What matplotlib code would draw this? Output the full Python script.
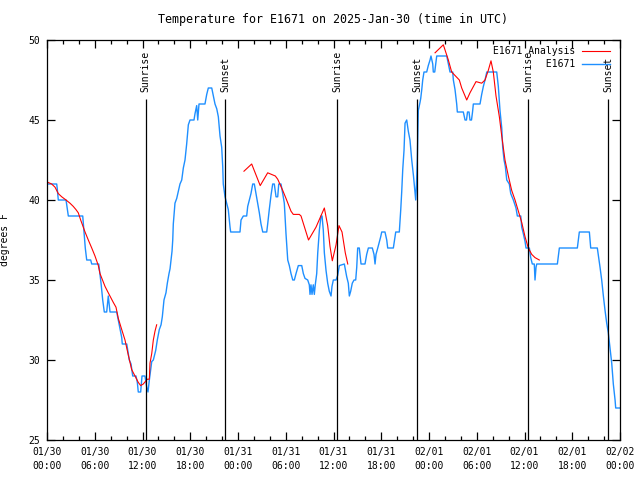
import datetime as dt
import matplotlib
matplotlib.use('Agg')
import matplotlib.pyplot as plt
import matplotlib.dates as mdates
import numpy as np

start = dt.datetime(2025, 1, 30)

# station readings, hours since 01/30 00:00 UTC and deg F
obs_hours = [0.00, 1.22, 1.29, 1.42, 2.39, 2.68, 4.49, 4.52, 4.65, 4.81, 4.99, 5.49, 5.62, 6.50, 6.79, 7.00,
             7.20, 7.50, 7.70, 7.92, 8.76, 8.96, 9.17, 9.39, 9.46, 10.02, 10.22, 10.34, 10.56, 10.77, 11.18,
             11.35, 11.47, 11.77, 11.94, 12.31, 12.53, 12.69, 12.86, 13.16, 13.36, 13.66, 13.86, 14.11, 14.33,
             14.49, 14.70, 14.95, 15.12, 15.33, 15.46, 15.58, 15.71, 15.80, 15.87, 16.08, 16.30, 16.71, 16.93,
             17.13, 17.34, 17.55, 17.76, 17.97, 18.47, 18.60, 18.81, 18.94, 19.10, 19.85, 20.07, 20.27, 20.70,
             20.90, 21.11, 21.33, 21.53, 21.74, 21.95, 22.08, 22.15, 22.37, 22.58, 22.78, 23.00, 23.08, 24.25,
             24.38, 24.67, 25.09, 25.22, 25.42, 25.63, 25.85, 26.05, 26.26, 26.48, 26.68, 26.89, 27.11, 27.61,
             27.73, 27.93, 28.15, 28.36, 28.56, 28.78, 28.99, 29.12, 29.40, 29.62, 29.82, 30.03, 30.25, 30.45,
             30.66, 30.88, 31.08, 31.29, 31.58, 32.01, 32.21, 32.42, 32.76, 32.96, 33.05, 33.17, 33.30, 33.46,
             33.59, 33.71, 33.89, 34.02, 34.22, 34.43, 34.56, 34.72, 34.85, 35.06, 35.27, 35.47, 35.69, 35.81,
             35.98, 36.32, 36.53, 36.73, 37.36, 37.66, 37.86, 37.99, 38.16, 38.36, 38.58, 38.79, 38.92, 39.04,
             39.24, 39.46, 39.96, 40.17, 40.38, 40.88, 41.09, 41.22, 41.34, 41.56, 41.93, 42.06, 42.47, 42.69,
             42.81, 43.52, 43.73, 43.82, 44.27, 44.45, 44.57, 44.70, 44.86, 44.99, 45.20, 45.40, 45.61, 45.83,
             46.05, 46.24, 46.33, 46.43, 46.53, 46.66, 46.87, 46.96, 47.09, 47.21, 47.37, 47.71, 47.91, 48.13,
             48.25, 48.47, 48.54, 48.72, 48.84, 48.97, 50.23, 50.43, 50.64, 50.98, 51.06, 51.27, 51.48, 51.56,
             52.31, 52.53, 52.71, 52.84, 53.03, 53.15, 53.34, 53.47, 53.57, 54.41, 54.62, 54.83, 55.04, 55.26,
             56.51, 56.71, 56.92, 57.14, 57.26, 57.43, 57.59, 57.77, 58.09, 58.27, 58.52, 58.60, 58.93, 59.10,
             59.53, 59.65, 59.85, 60.07, 60.19, 60.61, 60.78, 60.98, 61.23, 61.32, 61.45, 61.54, 64.13, 64.38,
             66.64, 66.89, 68.15, 68.32, 69.15, 69.49, 69.70, 69.91, 70.12, 70.33, 70.53, 70.74, 70.96, 71.16,
             71.38, 71.46, 72.00]
obs_temps = [41.0, 41.0, 40.7, 40.0, 40.0, 39.0, 39.0, 38.8, 38.0, 37.0, 36.25, 36.25, 36.0, 36.0, 34.8, 33.75,
             33.0, 33.0, 34.0, 33.0, 33.0, 32.5, 32.0, 31.4, 31.0, 31.0, 30.4, 30.0, 29.75, 29.0, 29.0,
             28.6, 28.0, 28.0, 29.0, 29.0, 28.3, 28.0, 28.75, 29.9, 30.0, 30.6, 31.25, 31.9, 32.2,
             32.7, 33.75, 34.2, 34.8, 35.4, 35.7, 36.25, 36.8, 37.5, 38.5, 39.8, 40.1, 41.0, 41.25,
             42.0, 42.5, 43.5, 44.7, 45.0, 45.0, 45.4, 45.9, 45.0, 46.0, 46.0, 46.6, 47.0, 47.0,
             46.5, 46.0, 45.7, 45.2, 44.0, 43.3, 42.1, 41.0, 40.2, 39.8, 39.4, 38.3, 38.0, 38.0,
             38.75, 39.0, 39.0, 39.6, 40.0, 40.4, 41.0, 41.0, 40.4, 39.8, 39.2, 38.5, 38.0, 38.0,
             38.5, 39.4, 40.3, 41.0, 41.0, 40.2, 40.2, 41.0, 41.0, 40.4, 39.8, 37.9, 36.25, 35.9,
             35.4, 35.0, 35.0, 35.4, 35.9, 35.9, 35.4, 35.1, 35.0, 34.7, 34.1, 34.7, 34.1, 34.7,
             34.1, 34.7, 35.4, 36.7, 38.1, 39.0, 39.0, 38.1, 36.7, 35.6, 34.8, 34.3, 34.0, 34.6,
             35.0, 35.0, 35.3, 35.9, 36.0, 35.2, 34.8, 34.0, 34.3, 34.8, 35.0, 35.0, 35.8, 37.0,
             37.0, 36.0, 36.0, 36.6, 37.0, 37.0, 36.6, 36.0, 36.6, 37.0, 37.7, 38.0, 38.0, 37.5,
             37.0, 37.0, 37.7, 38.0, 38.0, 39.4, 40.5, 41.9, 43.1, 44.8, 45.0, 44.3, 43.75, 42.5,
             41.5, 40.5, 40.0, 41.0, 42.5, 45.6, 46.1, 46.35, 46.9, 47.5, 48.0, 48.0, 48.4, 48.75,
             49.0, 48.5, 48.0, 48.0, 48.5, 49.0, 49.0, 48.5, 48.0, 48.0, 47.5, 46.9, 46.0, 45.5,
             45.5, 45.0, 45.0, 45.5, 45.5, 45.0, 45.0, 45.5, 46.0, 46.0, 46.6, 47.1, 47.5, 48.0,
             48.0, 47.1, 45.6, 44.5, 43.3, 42.5, 42.1, 41.25, 41.0, 40.4, 40.1, 40.0, 39.5, 39.0,
             39.0, 38.3, 37.9, 37.4, 37.0, 37.0, 36.4, 36.0, 36.0, 35.0, 35.8, 36.0, 36.0, 37.0,
             37.0, 38.0, 38.0, 37.0, 37.0, 35.8, 35.0, 34.0, 33.1, 32.3, 31.7, 30.8, 29.8, 28.5,
             27.5, 27.0, 27.0]

# analysis series, nan marks the gaps
ana_hours = [0.13, 0.59, 1.01, 1.42, 1.85, 2.39, 2.89, 3.30, 3.64, 3.93, 4.23, 4.49, 4.78, 5.19, 5.62, 6.03,
             6.45, 6.66, 7.29, 7.70, 8.33, 8.67, 8.96, 9.39, 9.80, 10.22, 10.64, 11.06, 11.47, 11.77, 12.10,
             12.60, 12.86, 12.94, 13.16, 13.36, 13.57, 13.78, np.nan,
             24.75, 25.72, 26.79, 27.73, 28.69, 28.99, 29.62, 30.03, 30.66, 30.95, 31.70, 31.92, 32.86, 33.80,
             34.85, 35.27, 35.56, 35.85, 36.32, 36.69, 37.07, 37.48, 37.79, np.nan,
             48.76, 49.80, 50.43, 50.85, 51.81, 52.11, 52.74, 53.15, 53.91, 54.62, 55.04, 55.45, 55.79, 56.08,
             56.42, 56.84, 57.14, 57.55, 57.97, 58.39, 58.81, 59.23, 59.65, 60.07, 60.48, 60.91, 61.32, 61.86]
ana_temps = [41.1, 41.0, 40.8, 40.4, 40.2, 40.0, 39.8, 39.6, 39.4, 39.2, 38.75, 38.4, 38.0, 37.5, 37.0, 36.5,
             35.9, 35.4, 34.6, 34.2, 33.6, 33.3, 32.6, 31.9, 31.25, 30.3, 29.4, 29.0, 28.6, 28.4, 28.5,
             28.8, 28.8, 29.8, 30.4, 31.25, 31.8, 32.2, np.nan,
             41.8, 42.25, 40.9, 41.7, 41.5, 41.3, 40.6, 40.1, 39.3, 39.1, 39.1, 39.0, 37.5, 38.3,
             39.5, 38.4, 37.1, 36.2, 37.2, 38.4, 38.0, 36.7, 36.0, np.nan,
             49.2, 49.7, 48.75, 48.0, 47.5, 47.0, 46.25, 46.7, 47.4, 47.3, 47.5, 48.1, 48.7, 48.0,
             46.5, 45.2, 44.0, 42.5, 41.5, 40.6, 40.0, 39.3, 38.6, 37.7, 37.0, 36.6, 36.4, 36.25]

sunrise_hours = [12.4, 36.45, 60.45]
sunset_hours = [22.4, 46.5, 70.5]

plt.rcParams['font.family'] = 'DejaVu Sans Mono'
plt.rcParams['font.size'] = 7

t0 = mdates.date2num(start)
def to_x(h):
    return t0 + np.asarray(h, dtype=float) / 24.0

fig = plt.figure(figsize=(6.4, 4.8), dpi=100)
ax = fig.add_axes([47 / 640, 40 / 480, 573 / 640, 400 / 480])

l_obs, = ax.plot(to_x(obs_hours), obs_temps, color='#1e8fff', lw=1.0, label='         E1671')
l_ana, = ax.plot(to_x(ana_hours), ana_temps, color='#ff0000', lw=0.8, label='E1671 Analysis')

for h in sunrise_hours:
    ax.vlines(to_x(h), 25, 46.3, color='black', lw=0.9)
    ax.text(to_x(h), 46.75, 'Sunrise', rotation=90, ha='center', va='bottom')
for h in sunset_hours:
    ax.vlines(to_x(h), 25, 46.3, color='black', lw=0.9)
    ax.text(to_x(h), 46.75, 'Sunset', rotation=90, ha='center', va='bottom')

ax.set_xlim(to_x(0), to_x(72))
ax.set_ylim(25, 50)
ax.set_yticks([25, 30, 35, 40, 45, 50])
ax.xaxis.set_major_locator(mdates.HourLocator(byhour=[0, 6, 12, 18]))
ax.xaxis.set_minor_locator(mdates.HourLocator(interval=2))
ax.xaxis.set_major_formatter(mdates.DateFormatter('%m/%d\n%H:%M'))
ax.tick_params(which='both', direction='in', top=True, right=True, width=0.9)
ax.tick_params(which='major', length=6, pad=5)
ax.tick_params(which='minor', length=3)
for lab in ax.get_xticklabels():
    lab.set_linespacing(1.45)
for s in ax.spines.values():
    s.set_linewidth(0.9)

ax.set_ylabel('degrees F')
ax.yaxis.set_label_coords(-0.0646, 0.5)
ax.set_title('Temperature for E1671 on 2025-Jan-30 (time in UTC)', pad=12)

ax.legend(handles=[l_ana, l_obs], loc='upper right', bbox_to_anchor=(0.9825, 0.984), frameon=False,
          markerfirst=False, handlelength=2.85, handletextpad=0.7, borderpad=0, borderaxespad=0,
          labelspacing=0.3)

fig.savefig('out.png', dpi=100)
